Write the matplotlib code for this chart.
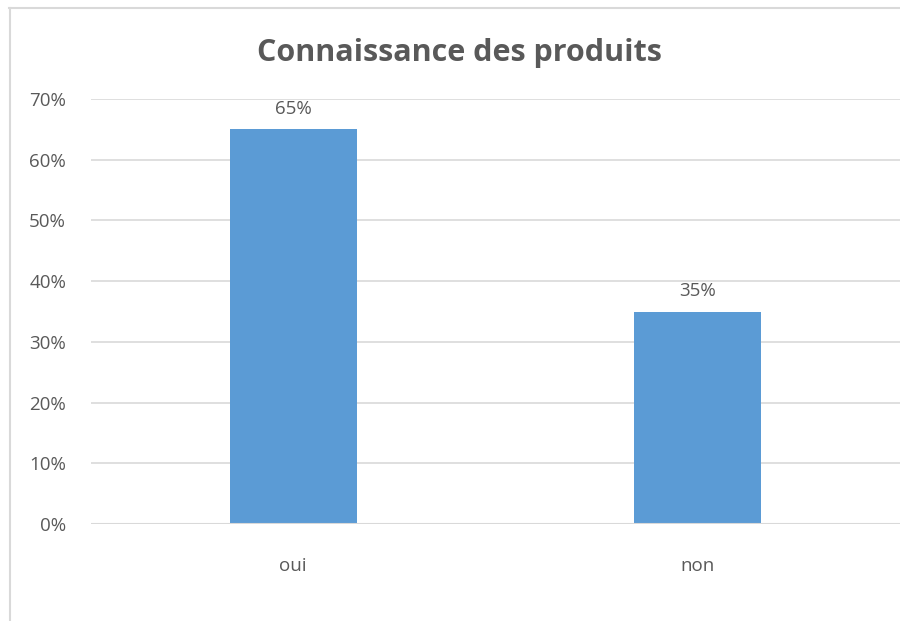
import matplotlib
matplotlib.use("Agg")
import matplotlib.pyplot as plt
from matplotlib.lines import Line2D

categories = ["oui", "non"]
values = [0.65, 0.35]
yticks = [0, 0.1, 0.2, 0.3, 0.4, 0.5, 0.6, 0.7]
ytick_labels = ["0%", "10%", "20%", "30%", "40%", "50%", "60%", "70%"]
title = "Connaissance des produits"

plt.rcParams['font.family'] = ['Open Sans', 'DejaVu Sans']
gray = "#595959"

fig = plt.figure(figsize=(9, 6.21), dpi=100)
ax = fig.add_axes([91/900, 1-524/621, 1-91/900, (524-99)/621])
x = range(len(categories))
ax.bar(x, values, width=0.314, color="#5b9bd5", zorder=3)
ax.set_xlim(-0.5, 1.5)
ax.set_ylim(0, 0.7)
ax.set_yticks(yticks)
ax.set_yticklabels(ytick_labels)
ax.set_xticks(list(x))
ax.set_xticklabels(categories)
ax.tick_params(axis='both', length=0, colors=gray, labelsize=13.5)
ax.tick_params(axis='y', pad=18)
ax.tick_params(axis='x', pad=24)
ax.grid(axis='y', color="#d9d9d9", linewidth=1.2, zorder=0)
for s in ax.spines.values():
    s.set_visible(False)
ax.axhline(0, color="#d9d9d9", linewidth=1.5, zorder=4)
for xi, v in zip(x, values):
    ax.annotate(f"{round(v*100)}%", (xi, v), xytext=(0, 8), textcoords="offset points",
                ha="center", va="bottom", color=gray, fontsize=13.5)

fig.text(459/900, 1-53/621, title, ha="center", va="center", fontsize=22,
         fontweight="bold", color=gray)

fig.add_artist(Line2D([9/900, 1], [1-8/621, 1-8/621], color="#d9d9d9", linewidth=1.5))
fig.add_artist(Line2D([9.5/900, 9.5/900], [0, 1-8/621], color="#d9d9d9", linewidth=1.5))

fig.savefig("out.png", dpi=100)
